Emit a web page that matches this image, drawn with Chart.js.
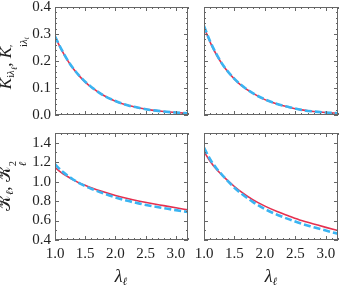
<!DOCTYPE html>
<html>
<head>
<meta charset="utf-8">
<script src="https://cdn.jsdelivr.net/npm/chart.js@4"></script>
<style>
  html, body { margin:0; padding:0; background:#fff; }
  #wrap { position:relative; width:341px; height:288px; overflow:hidden; background:#fff; }
  canvas { position:absolute; }
  .tt { position:absolute; font-family:'Liberation Serif','Times New Roman',serif; color:#222; white-space:nowrap; line-height:1; }
  .yt { transform:translate(-50%,-50%) rotate(-90deg); font-size:17px; }
  .xt { transform:translate(-50%,-50%); font-size:18px; }
  .st { display:inline-flex; flex-direction:column; vertical-align:-0.55em; font-size:0.62em; line-height:0.95; }
  sub { font-size:0.62em; vertical-align:-0.3em; line-height:0; }
  sub sub { font-size:0.8em; }
</style>
</head>
<body>
<div id="wrap">
  <canvas id="cTL" width="200" height="150"></canvas>
  <canvas id="cTR" width="200" height="150"></canvas>
  <canvas id="cBL" width="200" height="150"></canvas>
  <canvas id="cBR" width="200" height="150"></canvas>

  <div class="tt yt" style="left:13px;top:63px"><i>K</i><sub>i<i>λ</i><sub><i>ℓ</i></sub></sub>, <i>K</i><span class="st"><span>′</span><span>i<i>λ</i><sub><i>ℓ</i></sub></span></span></div>
  <div class="tt yt" style="left:12px;top:186px"><span>𝒦</span><sub><i>ℓ</i></sub>, <span>𝒦</span><span class="st"><span>2</span><span><i>ℓ</i></span></span></div>
  <div class="tt xt" style="left:121px;top:276px"><i>λ</i><sub><i>ℓ</i></sub></div>
  <div class="tt xt" style="left:271px;top:276px"><i>λ</i><sub><i>ℓ</i></sub></div>
</div>
<script>
// ---- data ----
const lambdaGrid = [1.0, 1.1, 1.2, 1.3, 1.4, 1.5, 1.6, 1.8, 2.0, 2.2, 2.4, 2.6, 2.8, 3.0, 3.2];

// top-left panel: K_{iλ}, K'_{iλ}
const tlRed  = [0.290, 0.245, 0.205, 0.172, 0.145, 0.122, 0.103, 0.073, 0.051, 0.036, 0.026, 0.018, 0.013, 0.009, 0.006];
const tlBlue = [0.291, 0.246, 0.206, 0.173, 0.146, 0.123, 0.104, 0.073, 0.052, 0.036, 0.026, 0.018, 0.013, 0.009, 0.006];

// top-right panel
const trRed  = [0.325, 0.270, 0.225, 0.188, 0.158, 0.133, 0.112, 0.081, 0.057, 0.041, 0.029, 0.019, 0.013, 0.009, 0.0065];
const trBlue = [0.330, 0.273, 0.227, 0.189, 0.159, 0.134, 0.113, 0.081, 0.058, 0.041, 0.029, 0.019, 0.013, 0.009, 0.0065];

// bottom-left panel: 𝒦_ℓ, 𝒦_ℓ^2
const blRed  = [1.146, 1.095, 1.055, 1.018, 0.987, 0.962, 0.938, 0.896, 0.858, 0.826, 0.799, 0.775, 0.753, 0.731, 0.710];
const blBlue = [1.180, 1.115, 1.065, 1.022, 0.985, 0.954, 0.927, 0.880, 0.838, 0.803, 0.774, 0.749, 0.728, 0.707, 0.688];

// bottom-right panel
const brRed  = [1.310, 1.210, 1.130, 1.065, 1.005, 0.950, 0.900, 0.815, 0.748, 0.693, 0.645, 0.600, 0.565, 0.530, 0.497];
const brBlue = [1.350, 1.230, 1.140, 1.068, 1.000, 0.937, 0.884, 0.792, 0.718, 0.660, 0.612, 0.568, 0.532, 0.497, 0.465];

// axis ranges / ticks
const xRange = [1.0, 3.2];
const xMajorTicks = [1.0, 1.5, 2.0, 2.5, 3.0];
const topYRange = [0.0, 0.4];
const topYTicks = [0.0, 0.1, 0.2, 0.3, 0.4];
const botYRange = [0.4, 1.5];
const botYTicks = [0.4, 0.6, 0.8, 1.0, 1.2, 1.4];

// ---- styling / layout ----
const RED = '#e5304f';
const BLUE = '#3ab4f2';
const FRAME = '#666';
const FONT = { family: "'Liberation Serif', 'Times New Roman', serif", size: 15 };
const AREAS = {
  cTL: { left: 55,  top: 7,   right: 188, bottom: 115 },
  cTR: { left: 204, top: 7,   right: 338, bottom: 115 },
  cBL: { left: 55,  top: 133, right: 188, bottom: 240 },
  cBR: { left: 204, top: 133, right: 338, bottom: 240 }
};

function range(a, b, step) {
  const out = [];
  const n = Math.round((b - a) / step);
  for (let i = 0; i <= n; i++) out.push(+(a + i * step).toFixed(6));
  return out;
}

const framePlugin = {
  id: 'frame',
  afterDatasetsDraw(chart, args, opts) {
    const { ctx, chartArea: a } = chart;
    const xs = chart.scales.x, ys = chart.scales.y;
    ctx.save();
    ctx.strokeStyle = FRAME;
    ctx.lineWidth = 1;
    ctx.strokeRect(Math.round(a.left) + 0.5, Math.round(a.top) + 0.5,
                   Math.round(a.right - a.left) - 1, Math.round(a.bottom - a.top) - 1);
    ctx.beginPath();
    const drawX = (vals, len) => vals.forEach(v => {
      const p = Math.round(xs.getPixelForValue(v)) + 0.5;
      ctx.moveTo(p, a.bottom); ctx.lineTo(p, a.bottom - len);
      ctx.moveTo(p, a.top); ctx.lineTo(p, a.top + len);
    });
    const drawY = (vals, len) => vals.forEach(v => {
      const p = Math.round(ys.getPixelForValue(v)) + 0.5;
      ctx.moveTo(a.left, p); ctx.lineTo(a.left + len, p);
      ctx.moveTo(a.right, p); ctx.lineTo(a.right - len, p);
    });
    drawX(opts.xMinor, 2);
    drawX(opts.xMajor, 4);
    drawY(opts.yMinor, 2);
    drawY(opts.yMajor, 4);
    ctx.stroke();
    ctx.restore();
  }
};

function makeChart(id, red, blue, yRange, yMajor, yMinorStep, showXLabels, showYLabels) {
  const toPts = arr => arr.map((y, i) => ({ x: lambdaGrid[i], y }));
  const canvas = document.getElementById(id);
  const chart = new Chart(canvas, {
    type: 'line',
    data: {
      datasets: [
        { data: toPts(blue), borderColor: BLUE, borderWidth: 2.6, borderDash: [7, 3],
          pointRadius: 0, cubicInterpolationMode: 'monotone', fill: false },
        { data: toPts(red), borderColor: RED, borderWidth: 1.6,
          pointRadius: 0, cubicInterpolationMode: 'monotone', fill: false }
      ]
    },
    options: {
      responsive: false,
      maintainAspectRatio: false,
      animation: false,
      events: [],
      layout: { padding: { left: 0, top: 12, right: 4, bottom: 0 } },
      plugins: {
        legend: { display: false },
        tooltip: { enabled: false },
        frame: {
          xMajor: xMajorTicks,
          xMinor: range(xRange[0], xRange[1], 0.1),
          yMajor: yMajor,
          yMinor: range(yRange[0], yRange[1], yMinorStep)
        }
      },
      scales: {
        x: {
          type: 'linear', min: xRange[0], max: xRange[1],
          grid: { display: false, drawTicks: false, tickLength: 0 },
          border: { display: false },
          afterBuildTicks: s => { s.ticks = xMajorTicks.map(v => ({ value: v })); },
          ticks: { display: showXLabels, padding: 5,
                   font: FONT, color: '#222', maxRotation: 0, autoSkip: false,
                   callback: v => Number(v).toFixed(1) },
          afterFit: s => { s.height = 26; }
        },
        y: {
          type: 'linear', min: yRange[0], max: yRange[1],
          grid: { display: false, drawTicks: false, tickLength: 0 },
          border: { display: false },
          afterBuildTicks: s => { s.ticks = yMajor.map(v => ({ value: v })); },
          ticks: { display: showYLabels, padding: 4,
                   font: FONT, color: '#222', autoSkip: false,
                   callback: v => Number(v).toFixed(1) },
          afterFit: s => { s.width = 40; }
        }
      }
    },
    plugins: [framePlugin]
  });
  // size the canvas so the plot area lands on the reference frame
  const t = AREAS[id];
  for (let k = 0; k < 4; k++) {
    const a = chart.chartArea;
    const dw = (t.right - t.left) - (a.right - a.left);
    const dh = (t.bottom - t.top) - (a.bottom - a.top);
    if (Math.abs(dw) < 0.01 && Math.abs(dh) < 0.01) break;
    chart.resize(Math.round(chart.width + dw), Math.round(chart.height + dh));
  }
  const a = chart.chartArea;
  canvas.style.left = (t.left - a.left) + 'px';
  canvas.style.top = (t.top - a.top) + 'px';
  return chart;
}

makeChart('cTL', tlRed, tlBlue, topYRange, topYTicks, 0.02, false, true);
makeChart('cTR', trRed, trBlue, topYRange, topYTicks, 0.02, false, false);
makeChart('cBL', blRed, blBlue, botYRange, botYTicks, 0.1, true, true);
makeChart('cBR', brRed, brBlue, botYRange, botYTicks, 0.1, true, false);
</script>
</body>
</html>
